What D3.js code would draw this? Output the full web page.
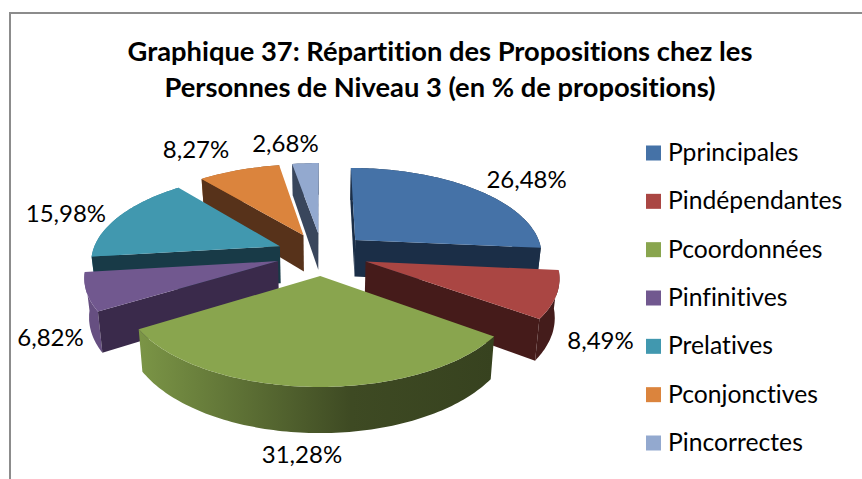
<!DOCTYPE html>
<html>
    <head>
        <title>Graphique 37</title>
        <meta charset="UTF-8">
        <script src="https://d3js.org/d3.v7.min.js" charset="utf-8"></script>
        <style>
            html, body { margin: 0; padding: 0; background: #fff; }
            svg { display: block; }
            text { font-family: Lato, "Open Sans", sans-serif; fill: #000; font-variant-ligatures: none; }
        </style>
    </head>
    <body>
        <script>
            var categories = ["Pprincipales", "Pindépendantes", "Pcoordonnées", "Pinfinitives", "Prelatives", "Pconjonctives", "Pincorrectes"];
            var values = [26.48, 8.49, 31.28, 6.82, 15.98, 8.27, 2.68];
            var colors = ["#4572a7", "#aa4643", "#89a54e", "#71588f", "#4198af", "#db843d", "#93a9cf"];
            var sideColors = ["#1b2e47", "#451b1a", "#363d1c", "#3a2a4b", "#183a47", "#57321a", "#39465c"];
            var titleLines = ["Graphique 37: Répartition des Propositions chez les", "Personnes de Niveau 3 (en % de propositions)"];

            // order the slices are painted in, back to front
            var paintOrder = [6, 5, 0, 4, 1, 3, 2];
            // label nudges from the rim, by hand
            var labelNudge = [[51, -1], [44, 54], [-9, 76], [-36, 54], [-53, 5.5], [-43, -12], [-20, -11]];

            var width = 862, height = 479;
            var cx = 322, cy = 254;
            var radius = 188, explode = 46, depth = 37.5;
            var tilt = 0.4616, persp = 0.000802;

            var svg = d3.select("body").append("svg")
                .attr("width", width)
                .attr("height", height);
            var defs = svg.append("defs");

            // frame
            svg.append("path")
                .attr("d", "M10," + height + "V13H" + width)
                .attr("fill", "none")
                .attr("stroke", "#8c8c8c")
                .attr("stroke-width", 2);

            svg.selectAll(".title").data(titleLines).enter().append("text")
                .attr("class", "title")
                .attr("x", 440)
                .attr("y", function(d, i){ return 61 + i * 36; })
                .attr("text-anchor", "middle")
                .attr("font-size", 27.3)
                .attr("font-weight", "bold")
                .text(function(d){ return d; });

            var arcs = d3.pie().sort(null)(values);

            // point on the disc -> screen. r is 0 at the slice's tip, 1 on the rim; low = underside
            function project(d, angle, r, low) {
                var mid = (d.startAngle + d.endAngle) / 2;
                var X = explode * Math.sin(mid) + r * radius * Math.sin(angle);
                var Y = explode * Math.cos(mid) + r * radius * Math.cos(angle);
                var s = 1 / (1 + persp * Y);
                var x = X * s, y = -tilt * Y * s;
                if (low) {
                    x = x * 0.98;
                    y = y + depth * s;
                }
                return [cx + x, cy + y];
            }

            function rim(d, low) {
                var pts = [];
                var n = Math.ceil((d.endAngle - d.startAngle) / 0.02);
                for (var i = 0; i <= n; i++) {
                    pts.push(project(d, d.startAngle + (d.endAngle - d.startAngle) * i / n, 1, low));
                }
                return pts;
            }

            function poly(pts) {
                return "M" + pts.map(function(p){ return p[0].toFixed(1) + "," + p[1].toFixed(1); }).join("L") + "Z";
            }

            function cut(d, angle) {
                return poly([project(d, angle, 0), project(d, angle, 1), project(d, angle, 1, true), project(d, angle, 0, true)]);
            }

            // shading of the outer wall runs dark towards the right
            function wallFill(i) {
                var id = "wall" + i;
                var base = d3.rgb(colors[i]);
                var g = defs.append("linearGradient").attr("id", id)
                    .attr("gradientUnits", "userSpaceOnUse")
                    .attr("x1", 139).attr("x2", 493).attr("y1", 0).attr("y2", 0);
                [[0, 0.9], [0.6, 0.45], [1, 0.4]].forEach(function(s) {
                    g.append("stop").attr("offset", s[0])
                        .attr("stop-color", d3.rgb(base.r * s[1], base.g * s[1], base.b * s[1]).formatHex());
                });
                return "url(#" + id + ")";
            }

            var pie = svg.append("g").attr("class", "pie");
            paintOrder.forEach(function(i) {
                var d = arcs[i];
                var g = pie.append("g");
                g.append("path").attr("fill", wallFill(i))
                    .attr("d", poly(rim(d).concat(rim(d, true).reverse())));
                if (Math.sin(d.startAngle) <= 0) {
                    g.append("path").attr("fill", sideColors[i]).attr("d", cut(d, d.startAngle));
                }
                if (Math.sin(d.endAngle) > 0) {
                    g.append("path").attr("fill", sideColors[i]).attr("d", cut(d, d.endAngle));
                }
                g.append("path").attr("fill", colors[i])
                    .attr("d", poly([project(d, 0, 0)].concat(rim(d))));
            });

            // labels sit outside the rim of their slice
            svg.selectAll(".label").data(arcs).enter().append("text")
                .attr("class", "label")
                .attr("text-anchor", "middle")
                .attr("font-size", 24)
                .attr("transform", function(d, i) {
                    var p = project(d, (d.startAngle + d.endAngle) / 2, 1);
                    return "translate(" + (p[0] + labelNudge[i][0]) + "," + (p[1] + labelNudge[i][1]) + ")";
                })
                .text(function(d){ return d.value.toFixed(2).replace(".", ",") + "%"; });

            // legend
            var legendY = d3.scalePoint().domain(categories).range([153, 443]);
            var legend = svg.selectAll(".legend").data(categories).enter().append("g")
                .attr("class", "legend")
                .attr("transform", function(d){ return "translate(646," + legendY(d) + ")"; });
            legend.append("rect")
                .attr("y", -7.5)
                .attr("width", 15)
                .attr("height", 15)
                .attr("fill", function(d, i){ return colors[i]; });
            legend.append("text")
                .attr("x", 22)
                .attr("y", 8)
                .attr("font-size", 24.7)
                .text(function(d){ return d; });
        </script>
    </body>
</html>
